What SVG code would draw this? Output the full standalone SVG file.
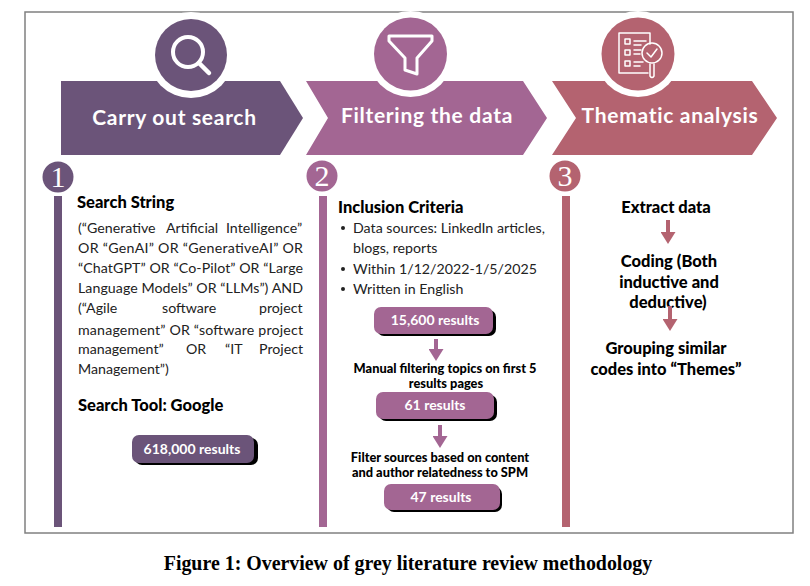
<svg xmlns="http://www.w3.org/2000/svg" width="810" height="586" viewBox="0 0 810 586">
<style>
.h{font-family:"Lato","Noto Sans",sans-serif;font-weight:700;fill:#fff;font-size:21px;text-anchor:middle;letter-spacing:.7px}
.b{font-family:"Lato","Noto Sans",sans-serif;font-weight:900;fill:#000;font-size:16.500px}
.c{font-family:"Lato","Noto Sans",sans-serif;font-weight:900;fill:#000;font-size:12.800px;text-anchor:middle}
.t{font-family:"Lato","Noto Sans",sans-serif;fill:#222;font-size:14.200px}
.p{font-family:"Lato","Noto Sans",sans-serif;font-weight:700;fill:#fff;font-size:14px;text-anchor:middle}
.n{font-family:"Liberation Serif",serif;fill:#fff;font-size:30px;text-anchor:middle}
.i{fill:none;stroke:#fff;stroke-linecap:round;stroke-linejoin:round}
.pu{fill:#6b5479}.ma{fill:#a36693}.ro{fill:#b46370}
</style>
<defs><marker id="ah" viewBox="0 0 12 15" refX="1" refY="7.500" markerWidth="12" markerHeight="15" markerUnits="userSpaceOnUse" orient="auto"><path d="M0 0L12 7.500L0 15Z" fill="#a36693"/></marker>
<marker id="ar" viewBox="0 0 12 15" refX="1" refY="7.500" markerWidth="12" markerHeight="15" markerUnits="userSpaceOnUse" orient="auto"><path d="M0 0L12 7.500L0 15Z" fill="#b46370"/></marker></defs>
<rect x="25" y="12" width="768" height="521" fill="#fff" stroke="#808080" stroke-width="1.5"/>
<g id="step1">
<path class="pu" d="M61 81H280L303 118L280 155H61Z"/>
<circle cx="191" cy="55" r="43" fill="#fff"/><circle class="pu" cx="191" cy="55" r="36"/>
<g class="i" stroke-width="4"><circle cx="188" cy="52" r="15"/><path d="M199 63L209 73" stroke-width="4.500"/></g>
<text class="h" x="174.500" y="125">Carry out search</text>
<circle class="pu" cx="58" cy="177" r="15.500"/><text class="n" x="58" y="187">1</text>
<rect class="pu" x="54" y="196" width="8" height="331"/>
<text class="b" x="77" y="208">Search String</text>
<text class="t" x="78" y="233">(“Generative</text><text class="t" x="166" y="233">Artificial</text><text class="t" x="226" y="233">Intelligence”</text>
<text class="t" x="78" y="253" textLength="225" lengthAdjust="spacing">OR “GenAI” OR “GenerativeAI” OR</text>
<text class="t" x="78" y="273" textLength="225" lengthAdjust="spacing">“ChatGPT” OR “Co-Pilot” OR “Large</text>
<text class="t" x="78" y="293" textLength="225" lengthAdjust="spacing">Language Models” OR “LLMs”) AND</text>
<text class="t" x="78" y="313">(“Agile</text><text class="t" x="162" y="313">software</text><text class="t" x="259" y="313">project</text>
<text class="t" x="78" y="335" textLength="225" lengthAdjust="spacing">management” OR “software project</text>
<text class="t" x="78" y="354">management”</text><text class="t" x="186" y="354">OR</text><text class="t" x="225" y="354">“IT</text><text class="t" x="259" y="354">Project</text>
<text class="t" x="78" y="374">Management”)</text>
<text class="b" x="78" y="411">Search Tool: Google</text>
<rect x="135" y="438" width="123" height="27" rx="7" fill="#000"/><rect class="pu" x="132" y="435" width="122" height="28" rx="7"/>
<text class="p" x="192" y="454">618,000 results</text>
</g>
<g id="step2">
<path class="ma" d="M306 81H523L547 118L523 155H306L328 118Z"/>
<circle cx="410.500" cy="54" r="43" fill="#fff"/><circle class="ma" cx="410.500" cy="54" r="36.500"/>
<path class="i" stroke-width="3" d="M389 36H432V41L417 58V74L405 70V58L389 41Z"/>
<text class="h" x="427" y="123">Filtering the data</text>
<circle class="ma" cx="322" cy="176" r="15.500"/><text class="n" x="322" y="186">2</text>
<rect class="ma" x="319" y="196" width="8" height="331"/>
<text class="b" x="338" y="213">Inclusion Criteria</text>
<circle cx="343" cy="228" r="2" fill="#222"/><circle cx="343" cy="269" r="2" fill="#222"/><circle cx="343" cy="289" r="2" fill="#222"/>
<text class="t" x="353" y="233">Data sources: LinkedIn articles,</text>
<text class="t" x="353" y="253">blogs, reports</text>
<text class="t" x="353" y="274">Within 1/12/2022-1/5/2025</text>
<text class="t" x="353" y="294">Written in English</text>
<rect x="377" y="310" width="119" height="26" rx="7" fill="#000"/><rect class="ma" x="374" y="307" width="119" height="27" rx="7"/>
<text class="p" x="435" y="325">15,600 results</text>
<text class="c"><tspan x="445" y="373">Manual filtering topics on first 5</tspan><tspan x="446" y="387.500">results pages</tspan></text>
<rect x="379" y="395" width="118" height="26" rx="7" fill="#000"/><rect class="ma" x="376" y="392" width="118" height="27" rx="7"/>
<text class="p" x="435" y="410">61 results</text>
<text class="c"><tspan x="440" y="462">Filter sources based on content</tspan><tspan x="440" y="476.500">and author relatedness to SPM</tspan></text>
<rect x="387" y="487" width="115" height="25" rx="7" fill="#000"/><rect class="ma" x="384" y="484" width="116" height="26" rx="7"/>
<text class="p" x="441" y="502">47 results</text>
</g>
<g id="step3">
<path class="ro" d="M552 81H752L777 118L752 155H552L576 118Z"/>
<circle cx="638" cy="54" r="43" fill="#fff"/><circle class="ro" cx="638" cy="54" r="36.500"/>
<g class="i" stroke-width="1.500"><path d="M650 44V33H619V73H648"/><rect x="625" y="39" width="5" height="5"/><rect x="625" y="50" width="5" height="5"/><rect x="625" y="61" width="5" height="5"/><path d="M634 41H646M634 45H641M634 50H641M634 54H640M634 62H643M634 66H640"/><circle cx="652" cy="53" r="10"/><path d="M647 53L651 57L657 49M650 64V76Q652 79 654 76V64"/></g>
<text class="h" x="670" y="123">Thematic analysis</text>
<circle class="ro" cx="565" cy="176" r="15.500"/><text class="n" x="565" y="186">3</text>
<rect class="ro" x="562" y="196" width="8" height="331"/>
<text class="b" x="666" y="213" text-anchor="middle">Extract data</text>
<text class="b" text-anchor="middle"><tspan x="669" y="267">Coding (Both</tspan><tspan x="669" y="288">inductive and</tspan><tspan x="668" y="308">deductive)</tspan></text>
<text class="b" text-anchor="middle"><tspan x="666" y="354">Grouping similar</tspan><tspan x="666" y="375">codes into “Themes”</tspan></text>
</g>
<g id="connectors" fill="none" stroke-width="4">
<path d="M436 339V350" stroke="#a36693" marker-end="url(#ah)"/>
<path d="M440 425V437" stroke="#a36693" marker-end="url(#ah)"/>
<path d="M668 220V233" stroke="#b46370" marker-end="url(#ar)"/>
<path d="M670 306V320" stroke="#b46370" marker-end="url(#ar)"/>
</g>
<text x="408" y="570" font-family="Liberation Serif,serif" font-weight="700" font-size="19.900" text-anchor="middle" fill="#000">Figure 1: Overview of grey literature review methodology</text>
</svg>
